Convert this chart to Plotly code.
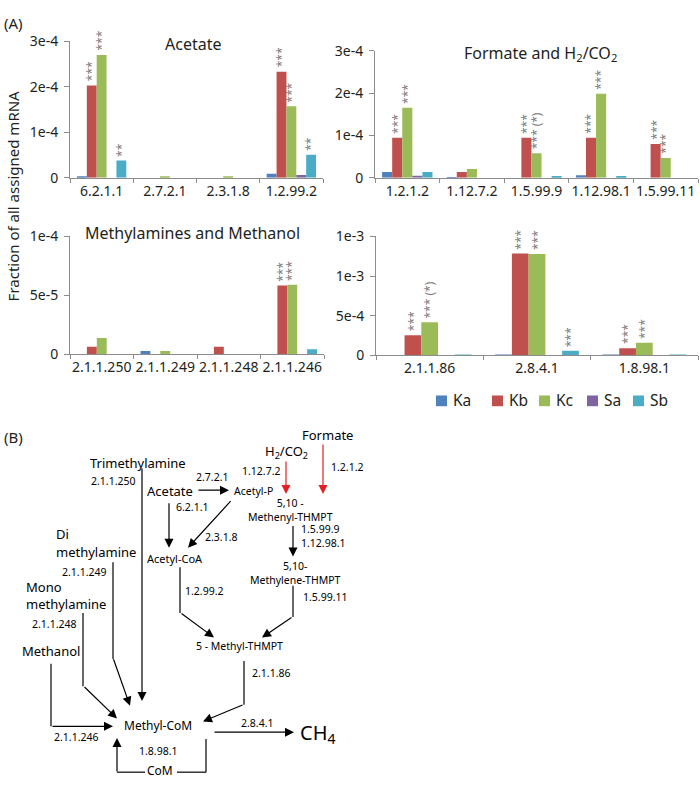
import plotly.graph_objects as go

# ---------------- data ----------------
series_names = ["Ka", "Kb", "Kc", "Sa", "Sb"]
series_colors = ["#4F81BD", "#C0504D", "#9BBB59", "#8064A2", "#4BACC6"]

acetate_cats = ["6.2.1.1", "2.7.2.1", "2.3.1.8", "1.2.99.2"]
acetate_ka = [0.035e-4, 0, 0, 0.09e-4]
acetate_kb = [2.03e-4, 0, 0, 2.33e-4]
acetate_kc = [2.70e-4, 0.03e-4, 0.03e-4, 1.57e-4]
acetate_sa = [0, 0, 0, 0.06e-4]
acetate_sb = [0.38e-4, 0, 0, 0.51e-4]
acetate_stars = [(0, 1, "***"), (0, 2, "***"), (0, 4, "**"),
                 (3, 1, "***"), (3, 2, "***"), (3, 4, "**")]

formate_cats = ["1.2.1.2", "1.12.7.2", "1.5.99.9", "1.12.98.1", "1.5.99.11"]
formate_ka = [0.14e-4, 0.02e-4, 0, 0.06e-4, 0]
formate_kb = [0.95e-4, 0.14e-4, 0.95e-4, 0.95e-4, 0.80e-4]
formate_kc = [1.66e-4, 0.21e-4, 0.58e-4, 1.99e-4, 0.47e-4]
formate_sa = [0.05e-4, 0, 0, 0, 0]
formate_sb = [0.14e-4, 0, 0.04e-4, 0.04e-4, 0]
formate_stars = [(0, 1, "***"), (0, 2, "***"), (2, 1, "***"), (2, 2, "*** (*)"),
                 (3, 1, "***"), (3, 2, "***"), (4, 1, "***"), (4, 2, "***")]

methyl_cats = ["2.1.1.250", "2.1.1.249", "2.1.1.248", "2.1.1.246"]
methyl_ka = [0, 3e-6, 0, 0]
methyl_kb = [6.6e-6, 0, 6.6e-6, 5.84e-5]
methyl_kc = [1.4e-5, 3e-6, 0, 5.9e-5]
methyl_sa = [0, 0, 0, 0]
methyl_sb = [0, 0, 0, 4.4e-6]
methyl_stars = [(3, 1, "***"), (3, 2, "***")]

common_cats = ["2.1.1.86", "2.8.4.1", "1.8.98.1"]
common_ka = [0, 0.01e-3, 0.005e-3]
common_kb = [0.254e-3, 1.285e-3, 0.09e-3]
common_kc = [0.417e-3, 1.277e-3, 0.16e-3]
common_sa = [0, 0, 0]
common_sb = [0.01e-3, 0.058e-3, 0.008e-3]
common_stars = [(0, 1, "***"), (0, 2, "*** (*)"), (1, 1, "***"), (1, 2, "***"),
                (1, 4, "***"), (2, 1, "***"), (2, 2, "***")]

panel_titles = ["Acetate", "Formate and H<sub>2</sub>/CO<sub>2</sub>",
                "Methylamines and Methanol", ""]
y_tickvals = [[0, 1e-4, 2e-4, 3e-4], [0, 1e-4, 2e-4, 3e-4],
              [0, 5e-5, 1e-4], [0, 5e-4, 1e-3, 1.5e-3]]
y_ticktext = [["0", "1e-4", "2e-4", "3e-4"], ["0", "1e-4", "2e-4", "3e-4"],
              ["0", "5e-5", "1e-4"], ["0", "5e-4", "1e-3", "1e-3"]]
y_ranges = [[0, 3e-4], [0, 3e-4], [0, 1e-4], [0, 1.5e-3]]

# ---------------- layout helpers ----------------
W, H = 700, 788
FONT = "Noto Sans"
BARGAP = 0.22


def X(px):
    return px / W


def Y(py):
    return 1 - py / H


panels = [
    (acetate_cats, [acetate_ka, acetate_kb, acetate_kc, acetate_sa, acetate_sb], acetate_stars),
    (formate_cats, [formate_ka, formate_kb, formate_kc, formate_sa, formate_sb], formate_stars),
    (methyl_cats, [methyl_ka, methyl_kb, methyl_kc, methyl_sa, methyl_sb], methyl_stars),
    (common_cats, [common_ka, common_kb, common_kc, common_sa, common_sb], common_stars),
]
# pixel boxes: (left, right, top, bottom)
boxes = [(70, 323, 32, 172), (375, 698, 42, 172), (70, 324, 232, 353), (376, 698, 232, 354)]
title_pos = [(193, 35), (540, 45), (192, 228), (0, 0)]

fig = go.Figure()
annotations = []
shapes = []

for p, (cats, vals, stars) in enumerate(panels):
    sfx = "" if p == 0 else str(p + 1)
    for i, name in enumerate(series_names):
        fig.add_trace(go.Bar(
            x=cats, y=vals[i], name=name, marker_color=series_colors[i],
            marker_line_width=0, xaxis="x" + sfx, yaxis="y" + sfx,
            legendgroup=name, showlegend=False))
    l, r, t, b = boxes[p]
    fig.layout["xaxis" + sfx] = dict(
        domain=[X(l), X(r)], anchor="y" + sfx, type="category", tickangle=0,
        showline=True, linecolor="#8c8c8c", linewidth=1,
        ticks="outside", ticklen=4, tickcolor="#8c8c8c", tickson="boundaries",
        tickfont=dict(family=FONT, size=14, color="#231f20"), showgrid=False,
        fixedrange=True)
    fig.layout["yaxis" + sfx] = dict(
        domain=[Y(b), Y(t)], anchor="x" + sfx, range=y_ranges[p],
        tickvals=y_tickvals[p], ticktext=y_ticktext[p],
        showline=True, linecolor="#8c8c8c", linewidth=1,
        ticks="outside", ticklen=5, tickcolor="#8c8c8c", ticklabelstandoff=3,
        tickfont=dict(family=FONT, size=14, color="#231f20"), showgrid=False,
        zeroline=False, fixedrange=True)
    if panel_titles[p]:
        annotations.append(dict(
            x=X(title_pos[p][0]), y=Y(title_pos[p][1]), xref="paper", yref="paper",
            text=panel_titles[p], showarrow=False, xanchor="center", yanchor="middle",
            font=dict(family=FONT, size=16, color="#231f20")))
    bw = (1 - BARGAP) / len(series_names)
    for (c, s, txt) in stars:
        annotations.append(dict(
            x=c - (1 - BARGAP) / 2 + (s + 0.5) * bw, y=vals[s][c],
            xref="x" + sfx, yref="y" + sfx, text=txt, textangle=-90,
            showarrow=False, xanchor="center", yanchor="bottom", yshift=2,
            font=dict(family=FONT, size=12, color="#7a7a7a")))

# legend (drawn as swatches + labels)
legend_x = [436, 492, 539, 587, 633]
for i, name in enumerate(series_names):
    x0 = legend_x[i]
    shapes.append(dict(type="rect", xref="paper", yref="paper",
                       x0=X(x0), x1=X(x0 + 11), y0=Y(406), y1=Y(395),
                       fillcolor=series_colors[i], line=dict(width=0)))
    annotations.append(dict(x=X(x0 + 15), y=Y(400), xref="paper", yref="paper",
                            text=name, showarrow=False, xanchor="left", yanchor="middle",
                            font=dict(family=FONT, size=15.5, color="#231f20")))

# y axis title and panel labels
annotations.append(dict(x=X(13), y=Y(191), xref="paper", yref="paper",
                        text="Fraction of all assigned mRNA", textangle=-90,
                        showarrow=False, xanchor="center", yanchor="middle",
                        font=dict(family=FONT, size=15, color="#231f20")))
annotations.append(dict(x=X(2), y=Y(13), xref="paper", yref="paper", text="(A)",
                        showarrow=False, xanchor="left", yanchor="middle",
                        font=dict(family=FONT, size=15, color="#231f20")))
annotations.append(dict(x=X(2), y=Y(438), xref="paper", yref="paper", text="(B)",
                        showarrow=False, xanchor="left", yanchor="middle",
                        font=dict(family=FONT, size=15, color="#231f20")))

# ---------------- pathway diagram (panel B) ----------------
labels = [
    # (x, y, text, size, anchor)
    (327, 436, "Formate", 13, "center"),
    (286, 453, "H<sub>2</sub>/CO<sub>2</sub>", 13, "center"),
    (282, 472, "1.12.7.2", 10.5, "right"),
    (329, 468, "1.2.1.2", 10.5, "left"),
    (138, 464, "Trimethylamine", 13, "center"),
    (137, 483, "2.1.1.250", 10.5, "right"),
    (170, 493, "Acetate", 13, "center"),
    (212, 479, "2.7.2.1", 10.5, "center"),
    (232, 493, "Acetyl-P", 10.5, "left"),
    (174, 509, "6.2.1.1", 10.5, "left"),
    (203, 540, "2.3.1.8", 10.5, "left"),
    (175, 562, "Acetyl-CoA", 11, "center"),
    (290, 512, "5,10 -<br>Methenyl-THMPT", 10.5, "center"),
    (299, 538.5, "1.5.99.9<br>1.12.98.1", 10.5, "left"),
    (295, 576.5, "5,10-<br>Methylene-THMPT", 10.5, "center"),
    (301, 602, "1.5.99.11", 10.5, "left"),
    (183, 595, "1.2.99.2", 10.5, "left"),
    (239, 652, "5 - Methyl-THMPT", 10.5, "center"),
    (250, 679, "2.1.1.86", 10.5, "left"),
    (54, 537, "Di", 13, "left"),
    (54, 555, "methylamine", 13, "left"),
    (108, 576, "2.1.1.249", 10.5, "right"),
    (24, 591, "Mono", 13, "left"),
    (24, 609, "methylamine", 13, "left"),
    (78, 629, "2.1.1.248", 10.5, "right"),
    (20, 657, "Methanol", 13, "left"),
    (52, 745, "2.1.1.246", 10.5, "left"),
    (158, 733, "Methyl-CoM", 12, "center"),
    (257, 731, "2.8.4.1", 10.5, "center"),
    (298, 741, "CH<sub>4</sub>", 20, "left"),
    (158, 759, "1.8.98.1", 10.5, "center"),
    (160, 779, "CoM", 12, "center"),
]
for (x, y, txt, sz, anc) in labels:
    annotations.append(dict(x=X(x), y=Y(y), xref="paper", yref="paper", text=txt,
                            showarrow=False, xanchor=anc, yanchor="middle", align=anc,
                            font=dict(family=FONT, size=sz, color="#000000")))

# plain line segments (x0, y0, x1, y1)
segments = [
    (293, 590, 293, 622),
    (180, 571, 180, 618),
    (244, 667, 244, 712),
    (113, 566, 113, 665),
    (83, 618, 83, 693),
    (51, 670, 51, 734),
    (206, 747, 206, 781),
    (206, 781, 177, 781),
    (145, 781, 117, 781),
]
for (x0, y0, x1, y1) in segments:
    shapes.append(dict(type="line", xref="paper", yref="paper",
                       x0=X(x0), y0=Y(y0), x1=X(x1), y1=Y(y1),
                       line=dict(color="#000000", width=1.2)))

# arrows (tail x, tail y, head x, head y, color)
RED = "#E31E24"
arrows = [
    (142, 474, 142, 708, "#000000"),
    (197, 492, 229, 492, "#000000"),
    (169, 505, 169, 551, "#000000"),
    (232, 503, 188, 551, "#000000"),
    (286, 462, 286, 496, RED),
    (323, 445, 323, 496, RED),
    (293, 528, 293, 560, "#000000"),
    (293, 622, 262, 643, "#000000"),
    (180, 618, 214, 643, "#000000"),
    (244, 712, 203, 729, "#000000"),
    (113, 665, 130, 713, "#000000"),
    (83, 693, 117, 726, "#000000"),
    (51, 734, 113, 734, "#000000"),
    (213, 740, 294, 740, "#000000"),
    (117, 781, 117, 746, "#000000"),
]
for (tx, ty, hx, hy, col) in arrows:
    annotations.append(dict(x=X(hx), y=Y(hy), xref="paper", yref="paper", text="",
                            showarrow=True, ax=tx - hx, ay=ty - hy, axref="pixel",
                            ayref="pixel", arrowhead=2, arrowsize=1.5, arrowwidth=1.2,
                            arrowcolor=col, standoff=0, startstandoff=0))

fig.update_layout(
    width=W, height=H, margin=dict(l=0, r=0, t=0, b=0),
    paper_bgcolor="white", plot_bgcolor="white",
    barmode="group", bargap=BARGAP, bargroupgap=0,
    showlegend=False,
    annotations=annotations, shapes=shapes,
    font=dict(family=FONT),
)

fig.write_html("out.html", config={"displayModeBar": False},
               post_script="document.body.style.margin='0px';"
                           "document.body.style.overflow='hidden';")
